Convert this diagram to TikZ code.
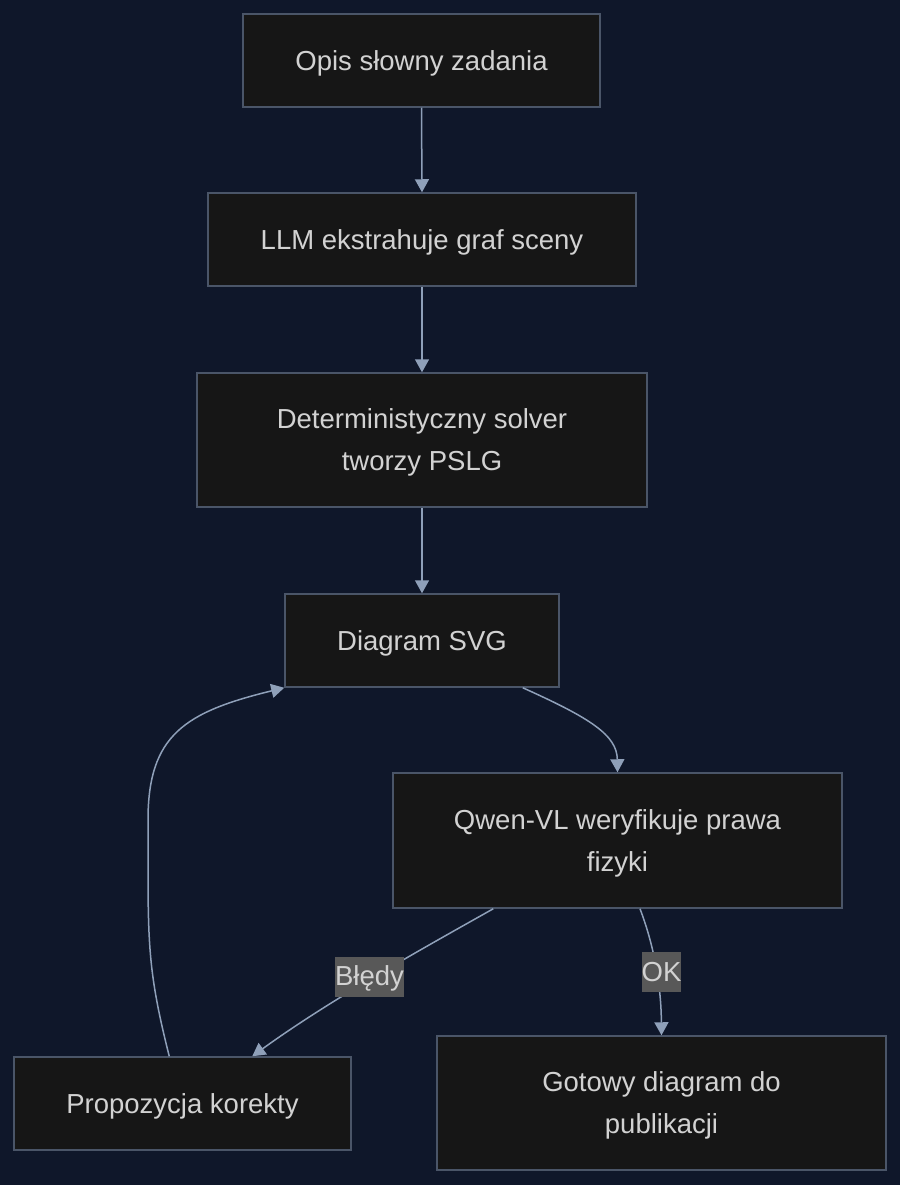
\documentclass[tikz,border=0pt]{standalone}
\usepackage{fontspec}
\setmainfont{Liberation Sans}
\usetikzlibrary{arrows.meta}
\definecolor{bgc}{HTML}{0F172A}
\definecolor{boxfill}{HTML}{161616}
\definecolor{boxline}{HTML}{4A5568}
\definecolor{txt}{HTML}{D2D2D2}
\definecolor{edge}{HTML}{8FA0B9}
\definecolor{lblfill}{HTML}{585858}
\newcommand{\tallstrut}{\rule{0pt}{25.5pt}}
\tikzset{
  box/.style={draw=boxline, line width=1.5pt, fill=boxfill, text=txt, align=center,
    font=\fontsize{27.5}{42}\selectfont, inner sep=0pt},
  conn/.style={draw=edge, line width=1.5pt, -{Triangle[length=13pt,width=14pt]}},
  lbl/.style={fill=lblfill, text=txt, font=\fontsize{27.5}{33}\selectfont, inner sep=0pt,
    minimum height=40pt},
}
\begin{document}
\begin{tikzpicture}[x=1pt,y=-1pt]
\fill[bgc] (0,0) rectangle (900,1185);
\useasboundingbox (0,0) rectangle (900,1185);
\node[box, minimum width=357pt, minimum height=93pt] (opis) at (421.5,60.5) {\tallstrut Opis słowny zadania};
\node[box, minimum width=428pt, minimum height=93pt] (llm) at (422,239.5) {\tallstrut LLM ekstrahuje graf sceny};
\node[box, minimum width=450pt, minimum height=134pt] (det) at (422,440) {\tallstrut Deterministyczny solver\\tworzy PSLG};
\node[box, minimum width=274pt, minimum height=93pt] (svg) at (422,640.5) {\tallstrut Diagram SVG};
\node[box, minimum width=449pt, minimum height=135pt] (qwen) at (617.5,840.5) {\tallstrut Qwen-VL weryfikuje prawa\\fizyki};
\node[box, minimum width=337pt, minimum height=93pt] (prop) at (182.5,1103.5) {\tallstrut Propozycja korekty};
\node[box, minimum width=449pt, minimum height=134pt] (got) at (661.5,1103) {\tallstrut Gotowy diagram do\\publikacji};

\draw[conn] (opis.south) -- (llm.north);
\draw[conn] (llm.south) -- (det.north);
\draw[conn] (det.south) -- (svg.north);
\draw[conn] ([xshift=-37pt]svg.south east) .. controls (590,718) and (617,735) .. (qwen.north);
\draw[conn] ([xshift=101pt]qwen.south west) .. controls (420,950) and (330,1000) .. ([xshift=239pt]prop.north west);
\draw[conn] ([xshift=22.5pt]qwen.south) .. controls (650,935) and (661,975) .. (got.north);
\draw[conn] ([xshift=156pt]prop.north west) .. controls (150,980) and (148,950) .. (148,870)
  -- (148,820) .. controls (148,735) and (185,712) .. (svg.south west);

\node[lbl, minimum width=69pt] (bledy) at (369.5,977) {\rule{0pt}{23pt}Błędy};
\node[lbl, minimum width=39pt] (ok) at (661.5,972) {OK};
\end{tikzpicture}
\end{document}
